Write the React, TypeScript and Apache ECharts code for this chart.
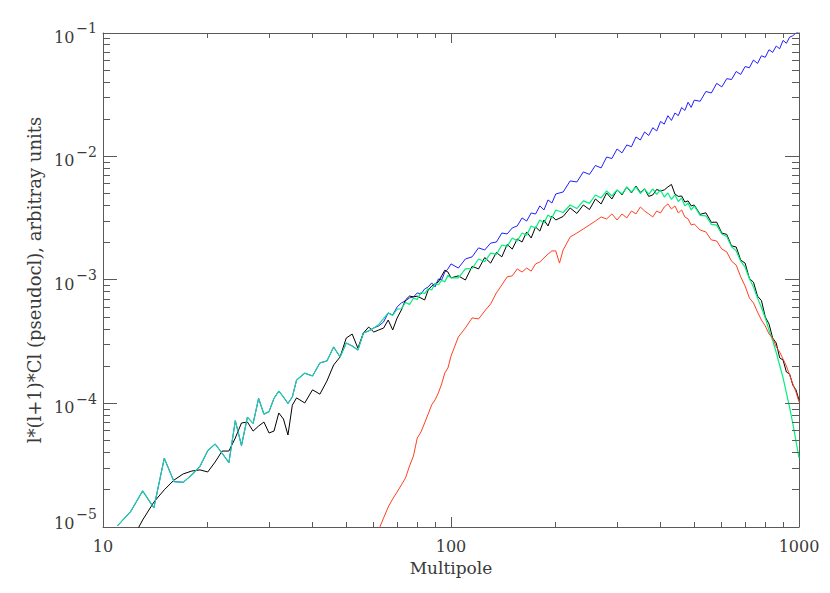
import React, { useEffect, useRef } from 'react';
import * as echarts from 'echarts';

// Multipole samples (l) and spectrum values
const blueL = [11,12,13,14,15,16,17,18,19,20,21,22,23,24,25,26,27,28,29,30,31,32,33,34,35,36,38,40,42,44,46,48,50,52,54,56,58,60,62,64,66,68,70,72,74,76,78,80,82,84,86,88,90,92,94,96,98,100,105,110,115,120,125,130,135,140,145,150,155,160,165,170,175,180,185,190,195,200,210,220,230,240,250,260,270,280,290,300,310,320,330,340,350,360,370,380,390,400,410,420,430,440,450,460,470,480,490,500,520,540,560,580,600,620,640,660,680,700,720,740,760,780,800,820,840,860,880,900,920,940,960,980,1000];
const blueV = [1.02e-5,1.33e-5,1.96e-5,1.43e-5,3.6e-5,2.33e-5,2.3e-5,2.65e-5,3.1e-5,4.15e-5,4.7e-5,3.95e-5,3.32e-5,7.26e-5,4.56e-5,7.75e-5,6.9e-5,1.1e-4,8.2e-5,8.6e-5,1.1e-4,1.26e-4,1.13e-4,1.0e-4,1.13e-4,1.55e-4,
  1.76e-4,1.67e-4,2.13e-4,2.21e-4,2.87e-4,2.38e-4,3.09e-4,2.92e-4,2.71e-4,3.72e-4,3.87e-4,4.09e-4,4.25e-4,4.57e-4,5.41e-4,5.21e-4,6.05e-4,6.52e-4,6.77e-4,7.16e-4,7.29e-4,7.86e-4,7.7e-4,8.46e-4,8.79e-4,9.47e-4,8.79e-4,1.02e-3,1.0e-3,1.16e-3,1.23e-3,1.35e-3,
  1.25e-3,1.48e-3,1.54e-3,1.82e-3,1.75e-3,1.99e-3,2.03e-3,2.4e-3,2.36e-3,2.64e-3,2.74e-3,3.18e-3,3.0e-3,3.49e-3,3.42e-3,3.98e-3,3.69e-3,4.45e-3,4.2e-3,4.97e-3,
  5.16e-3,6.34e-3,6.22e-3,7.5e-3,7.16e-3,8.46e-3,8.08e-3,9.9e-3,9.63e-3,1.15e-2,1.07e-2,1.24e-2,1.2e-2,1.44e-2,1.36e-2,1.58e-2,1.48e-2,1.71e-2,1.61e-2,1.92e-2,1.83e-2,2.14e-2,1.96e-2,2.25e-2,2.14e-2,2.49e-2,2.36e-2,2.75e-2,2.5e-2,2.86e-2,
  2.8e-2,3.36e-2,3.27e-2,3.91e-2,3.66e-2,4.27e-2,4.2e-2,4.88e-2,4.62e-2,5.35e-2,5.23e-2,6.04e-2,5.67e-2,6.54e-2,6.36e-2,7.32e-2,6.97e-2,7.84e-2,7.46e-2,8.71e-2,8.26e-2,9.26e-2,9.5e-2,1.0e-1,1.02e-1];

const greenL = blueL;
const greenV = [1.02e-5,1.33e-5,1.96e-5,1.43e-5,3.6e-5,2.33e-5,2.3e-5,2.65e-5,3.1e-5,4.15e-5,4.7e-5,3.95e-5,3.32e-5,7.26e-5,4.56e-5,7.75e-5,6.9e-5,1.1e-4,8.2e-5,8.6e-5,1.1e-4,1.26e-4,1.13e-4,1.0e-4,1.13e-4,1.55e-4,
  1.76e-4,1.67e-4,2.13e-4,2.21e-4,2.87e-4,2.38e-4,3.09e-4,2.92e-4,2.71e-4,3.72e-4,3.87e-4,4.09e-4,4.37e-4,4.86e-4,5.41e-4,5.16e-4,5.82e-4,5.85e-4,6.58e-4,6.35e-4,7.12e-4,6.97e-4,7.94e-4,7.77e-4,8.5e-4,8.3e-4,9.4e-4,9.15e-4,9.94e-4,9.66e-4,1.09e-3,1.04e-3,
  1.04e-3,1.23e-3,1.24e-3,1.48e-3,1.41e-3,1.65e-3,1.61e-3,1.92e-3,1.87e-3,2.19e-3,2.07e-3,2.4e-3,2.31e-3,2.74e-3,2.64e-3,3.06e-3,2.9e-3,3.36e-3,3.18e-3,3.69e-3,
  3.52e-3,4.05e-3,3.79e-3,4.37e-3,4.17e-3,4.88e-3,4.62e-3,5.26e-3,4.79e-3,5.36e-3,4.97e-3,5.67e-3,5.16e-3,5.67e-3,5.02e-3,5.46e-3,4.93e-3,5.46e-3,4.93e-3,5.36e-3,4.7e-3,5.07e-3,4.49e-3,4.88e-3,4.32e-3,4.62e-3,3.98e-3,4.2e-3,3.69e-3,3.98e-3,
  3.34e-3,3.31e-3,2.82e-3,2.78e-3,2.36e-3,2.25e-3,1.86e-3,1.72e-3,1.42e-3,1.27e-3,1.03e-3,8.76e-4,7.13e-4,5.98e-4,4.93e-4,3.93e-4,3.24e-4,2.59e-4,2.04e-4,1.61e-4,1.22e-4,9.27e-5,6.88e-5,4.99e-5,3.62e-5];

const blackL = [12,13,14,15,16,17,18,19,20,21,22,23,24,25,26,27,28,29,30,31,32,33,34,35,36,38,40,42,44,46,48,50,52,54,56,58,60,62,64,66,68,70,72,74,76,78,80,82,84,86,88,90,92,94,96,98,100,105,110,115,120,125,130,135,140,145,150,155,160,165,170,175,180,185,190,195,200,210,220,230,240,250,260,270,280,290,300,310,320,330,340,350,360,370,380,390,400,410,420,430,440,450,460,470,480,490,500,520,540,560,580,600,620,640,660,680,700,720,740,760,780,800,820,840,860,880,900,920,940,960,980,1000];
const blackV = [7.5e-6,1.14e-5,1.59e-5,2.0e-5,2.4e-5,2.69e-5,2.84e-5,2.9e-5,2.79e-5,3.36e-5,4.12e-5,4.12e-5,5.26e-5,6.95e-5,7.08e-5,5.98e-5,6.57e-5,7.08e-5,5.77e-5,5.98e-5,8.38e-5,7.49e-5,5.56e-5,9.7e-5,1.11e-4,
  1.01e-4,1.29e-4,1.19e-4,1.52e-4,2.05e-4,2.38e-4,3.39e-4,3.65e-4,2.81e-4,3.72e-4,4.16e-4,3.79e-4,3.94e-4,4.08e-4,4.74e-4,3.94e-4,4.92e-4,5.71e-4,6.89e-4,7.41e-4,7.3e-4,7.4e-4,7.14e-4,6.89e-4,8.3e-4,8.93e-4,9.29e-4,9.64e-4,1.08e-3,1.2e-3,1.16e-3,1.04e-3,
  1.08e-3,1.0e-3,1.29e-3,1.23e-3,1.52e-3,1.37e-3,1.67e-3,1.54e-3,1.94e-3,1.78e-3,2.15e-3,2.03e-3,2.45e-3,2.19e-3,2.69e-3,2.49e-3,3.06e-3,2.74e-3,3.3e-3,3.06e-3,
  3.27e-3,3.83e-3,3.46e-3,4.05e-3,3.72e-3,4.53e-3,4.13e-3,5.07e-3,4.53e-3,5.36e-3,4.88e-3,5.67e-3,5.07e-3,5.77e-3,5.12e-3,5.46e-3,4.75e-3,4.88e-3,5.41e-3,5.26e-3,5.36e-3,5.67e-3,5.94e-3,4.97e-3,4.75e-3,4.79e-3,4.28e-3,4.37e-3,3.98e-3,4.05e-3,
  3.4e-3,3.5e-3,2.93e-3,2.94e-3,2.4e-3,2.34e-3,1.89e-3,1.85e-3,1.45e-3,1.37e-3,1.03e-3,9.6e-4,7.4e-4,6.81e-4,5.02e-4,4.41e-4,3.39e-4,3.09e-4,2.34e-4,2.25e-4,1.8e-4,1.73e-4,1.41e-4,1.29e-4,1.07e-4];

const redL = [60,62,64,66,68,70,72,74,76,78,80,82,84,86,88,90,92,94,96,98,100,105,110,115,120,125,130,135,140,145,150,155,160,165,170,175,180,185,190,195,200,205,210,220,230,240,250,260,270,280,290,300,310,320,330,340,350,360,370,380,390,400,410,420,430,440,450,460,470,480,490,500,520,540,560,580,600,620,640,660,680,700,720,740,760,780,800,820,840,860,880,900,920,940,960,980,1000];
const redV = [7.6e-6,9.5e-6,1.18e-5,1.45e-5,1.69e-5,1.92e-5,2.19e-5,2.49e-5,3.12e-5,3.76e-5,5.26e-5,5.88e-5,6.96e-5,8.23e-5,9.74e-5,1.07e-4,1.22e-4,1.44e-4,1.77e-4,1.94e-4,2.42e-4,
  3.46e-4,4.09e-4,4.93e-4,4.84e-4,5.61e-4,6.4e-4,7.86e-4,9.12e-4,1.06e-3,1.08e-3,1.23e-3,1.16e-3,1.25e-3,1.18e-3,1.35e-3,1.4e-3,1.51e-3,1.62e-3,1.72e-3,1.72e-3,1.37e-3,
  1.75e-3,2.23e-3,2.4e-3,2.59e-3,2.79e-3,3.0e-3,3.24e-3,3.12e-3,3.43e-3,3.06e-3,3.43e-3,3.18e-3,3.62e-3,3.43e-3,3.9e-3,3.62e-3,3.43e-3,3.24e-3,3.62e-3,3.49e-3,3.9e-3,4.13e-3,3.76e-3,3.98e-3,3.49e-3,3.69e-3,3.24e-3,3.12e-3,2.79e-3,2.84e-3,
  2.54e-3,2.45e-3,2.11e-3,2.07e-3,1.78e-3,1.69e-3,1.42e-3,1.32e-3,1.06e-3,8.94e-4,7.16e-4,6.52e-4,5.51e-4,4.74e-4,4.25e-4,3.66e-4,3.39e-4,2.87e-4,2.61e-4,2.29e-4,2.01e-4,1.7e-4,1.44e-4,1.24e-4,1.03e-4];

// Axis tick positions (major decades + minor 2..9)
const xTickVals = [10,20,30,40,50,60,70,80,90,100,200,300,400,500,600,700,800,900,1000];
const yTickVals = [1e-5,2e-5,3e-5,4e-5,5e-5,6e-5,7e-5,8e-5,9e-5,1e-4,2e-4,3e-4,4e-4,5e-4,6e-4,7e-4,8e-4,9e-4,1e-3,2e-3,3e-3,4e-3,5e-3,6e-3,7e-3,8e-3,9e-3,1e-2,2e-2,3e-2,4e-2,5e-2,6e-2,7e-2,8e-2,9e-2,1e-1];

const FONT = 'DejaVu Serif';
const AXIS = '#5a5a5a';
const TEXT = '#3a3a3a';
const GRID = { left: 103, right: 31, top: 33, bottom: 66 };

const pairs = (ls: number[], vs: number[]) => ls.map((l, i) => [l, vs[i]]);
const isMajor = (v: number) => Math.abs(Math.log10(v) - Math.round(Math.log10(v))) < 1e-6;
const crisp = (p: number) => Math.floor(p) + 0.5;

export default function App() {
  const ref = useRef<HTMLDivElement>(null);
  useEffect(() => {
    const chart = echarts.init(ref.current as HTMLDivElement, null, { renderer: 'svg' });
    const lineSeries = (name: string, ls: number[], vs: number[], color: any, z: number, width = 1) => ({
      name,
      type: 'line',
      data: pairs(ls, vs),
      showSymbol: false,
      symbol: 'none',
      clip: true,
      z,
      lineStyle: { color, width },
      itemStyle: { color: '#000' },
      emphasis: { disabled: true },
    });
    // green coincides with blue at low multipoles -> teal where they overlap
    const x0 = GRID.left;
    const x1 = 830 - GRID.right;
    const greenColor = new echarts.graphic.LinearGradient(x0, 0, x1, 0, [
      { offset: 0, color: '#1fcca2' },
      { offset: 0.38, color: '#1fd0a0' },
      { offset: 0.44, color: '#00f07c' },
      { offset: 1, color: '#00f07c' },
    ], true);
    const option: any = {
      animation: false,
      backgroundColor: '#ffffff',
      grid: { ...GRID, containLabel: false, outerBoundsMode: 'none' },
      xAxis: [
        {
          type: 'log', logBase: 10, min: 10, max: 1000, position: 'bottom',
          name: 'Multipole', nameLocation: 'middle', nameGap: 32,
          nameTextStyle: { fontFamily: FONT, fontSize: 17, color: TEXT },
          axisLine: { show: true, lineStyle: { color: AXIS, width: 1 } },
          axisTick: { show: false }, minorTick: { show: false },
          splitLine: { show: false },
          axisLabel: {
            show: true, fontFamily: FONT, fontSize: 16, color: TEXT, margin: 11,
            showMinLabel: true, showMaxLabel: true,
            formatter: (v: number) => String(Math.round(v)),
          },
        },
        {
          type: 'log', logBase: 10, min: 10, max: 1000, position: 'top',
          axisLine: { show: true, lineStyle: { color: AXIS, width: 1 } },
          axisTick: { show: false }, splitLine: { show: false }, axisLabel: { show: false },
        },
      ],
      yAxis: [
        {
          type: 'log', logBase: 10, min: 1e-5, max: 1e-1, position: 'left',
          name: 'l*(l+1)*Cl (pseudocl), arbitray units', nameLocation: 'middle', nameGap: 58, nameRotate: 90,
          nameTextStyle: { fontFamily: FONT, fontSize: 18, color: TEXT },
          axisLine: { show: true, lineStyle: { color: AXIS, width: 1 } },
          axisTick: { show: false }, minorTick: { show: false },
          splitLine: { show: false },
          axisLabel: {
            show: true, margin: 6, showMinLabel: true, showMaxLabel: true,
            verticalAlignMinLabel: 'bottom',
            formatter: (v: number) => `{b|10}{e|\u2212${-Math.round(Math.log10(v))}}`,
            rich: {
              b: { fontFamily: FONT, fontSize: 16, lineHeight: 16, color: TEXT, padding: [8, 0, 0, 0] },
              e: { fontFamily: FONT, fontSize: 14, lineHeight: 14, color: TEXT, padding: [0, 0, 10, 2] },
            },
          },
        },
        {
          type: 'log', logBase: 10, min: 1e-5, max: 1e-1, position: 'right',
          axisLine: { show: true, lineStyle: { color: AXIS, width: 1 } },
          axisTick: { show: false }, splitLine: { show: false }, axisLabel: { show: false },
        },
      ],
      series: [
        lineSeries('blue', blueL, blueV, '#1f1fff', 2),
        lineSeries('black', blackL, blackV, '#000000', 3),
        lineSeries('green', greenL, greenV, greenColor, 4, 1.2),
        lineSeries('red', redL, redV, '#ff4020', 5),
        {
          type: 'custom', name: 'xticks', xAxisIndex: 0, yAxisIndex: 0, silent: true, clip: false, z: 10,
          data: xTickVals.map((v) => [v, 1e-3]),
          renderItem: (params: any, api: any) => {
            const v = api.value(0);
            const cs = params.coordSys;
            const x = crisp(api.coord([v, 1e-3])[0]);
            const len = isMajor(v) ? 10 : 5;
            const top = cs.y, bottom = cs.y + cs.height;
            const st = { stroke: AXIS, lineWidth: 1 };
            return {
              type: 'group',
              children: [
                { type: 'line', shape: { x1: x, y1: bottom, x2: x, y2: bottom - len }, style: st },
                { type: 'line', shape: { x1: x, y1: top, x2: x, y2: top + len }, style: st },
              ],
            };
          },
        },
        {
          type: 'custom', name: 'yticks', xAxisIndex: 0, yAxisIndex: 0, silent: true, clip: false, z: 10,
          data: yTickVals.map((v) => [100, v]),
          renderItem: (params: any, api: any) => {
            const v = api.value(1);
            const cs = params.coordSys;
            const y = crisp(api.coord([100, v])[1]);
            const len = isMajor(v) ? 14 : 7;
            const left = cs.x, right = cs.x + cs.width;
            const st = { stroke: AXIS, lineWidth: 1 };
            return {
              type: 'group',
              children: [
                { type: 'line', shape: { x1: left, y1: y, x2: left + len, y2: y }, style: st },
                { type: 'line', shape: { x1: right, y1: y, x2: right - len, y2: y }, style: st },
              ],
            };
          },
        },
      ],
    };
    chart.setOption(option);
    return () => chart.dispose();
  }, []);
  return (
    <div
      ref={ref}
      style={{ position: 'fixed', left: 0, top: 0, width: 830, height: 593, background: '#ffffff' }}
    />
  );
}
